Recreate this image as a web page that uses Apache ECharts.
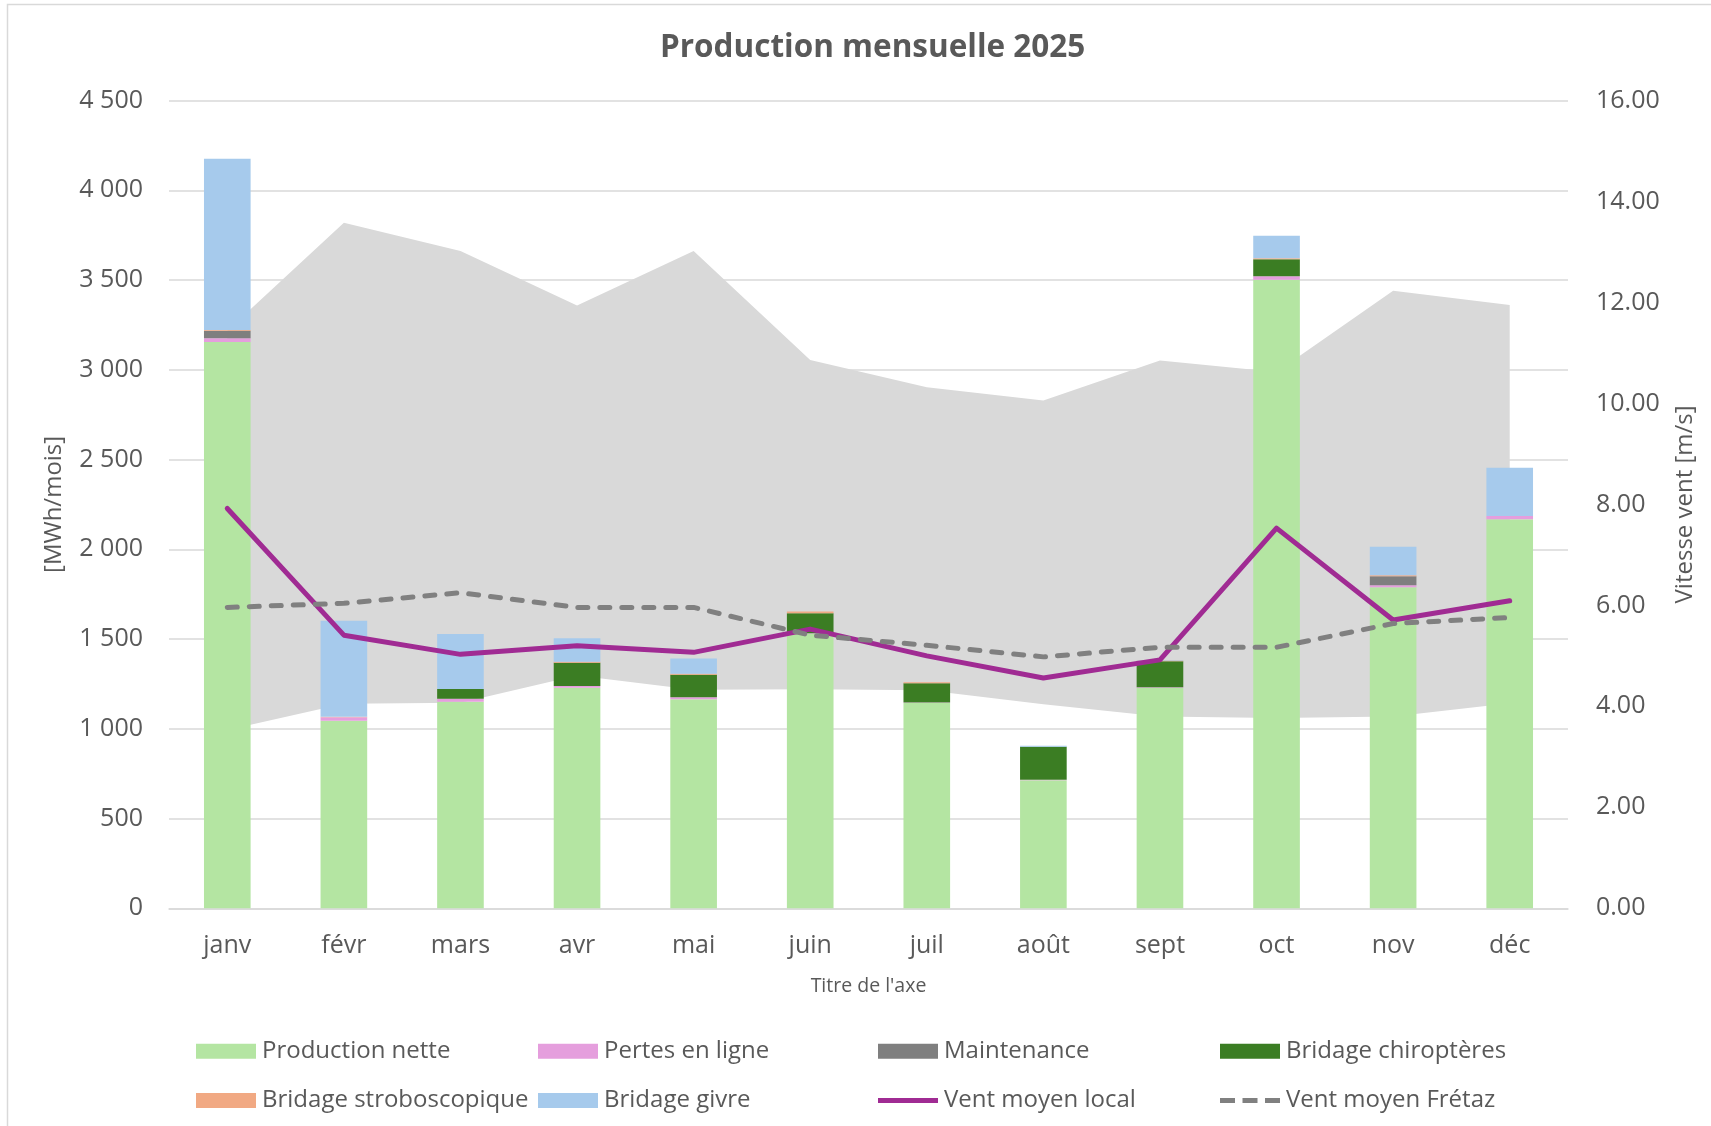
<!DOCTYPE html>
<html>
<head>
<meta charset="utf-8">
<script src="https://cdn.jsdelivr.net/npm/echarts@6/dist/echarts.min.js"></script>
<style>
html,body{margin:0;padding:0;background:#fff;}
#chart{width:1711px;height:1126px;}
</style>
</head>
<body>
<div id="chart"></div>
<script>
// ---- Data ----
const months = ['janv','févr','mars','avr','mai','juin','juil','août','sept','oct','nov','déc'];
const productionNette   = [3155,1045,1151,1229,1164,1530,1143,714,1228,3502,1789,2167];
const pertesEnLigne     = [21,19,17,9,11,2,3,2,3,19,11,18];
const maintenance       = [41,0,0,0,0,0,0,0,0,0,50,0];
const bridageChiro      = [0,0,54,130,126,111,108,184,145,95,0,0];
const bridageStrobo     = [5,3,0,6,6,11,5,0,4,5,5,0];
const bridageGivre      = [953,535,306,130,84,0,0,5,3,126,159,269];
const ventLocal         = [7.92,5.41,5.03,5.20,5.07,5.53,5.00,4.56,4.92,7.53,5.71,6.09];
const ventFretaz        = [5.96,6.04,6.25,5.96,5.96,5.41,5.21,4.98,5.17,5.17,5.64,5.76];
const ventBandLow       = [3.53,4.05,4.07,4.61,4.33,4.34,4.32,4.04,3.80,3.77,3.80,4.06];
const ventBandHigh      = [11.44,13.58,13.02,11.94,13.02,10.86,10.32,10.06,10.85,10.62,12.23,11.95];

const FONT = '"Open Sans", "Noto Sans", sans-serif';
const TXT = '#595959';

const bandDiff = ventBandHigh.map((v,i)=> +(v - ventBandLow[i]).toFixed(2));

function barSeries(name, data, color){
  return {name, type:'bar', stack:'prod', data, barWidth:'40%', z:2,
    itemStyle:{color}, emphasis:{disabled:true}};
}

const ROW1 = 1039.3, ROW2 = 1088.5; // legend row tops
const ICON_SOLID = 'path://M0,0 L60,0 L60,5 L0,5 Z';
const ICON_DASH  = 'path://M0,0 L15,0 L15,5 L0,5 Z M22.5,0 L37.5,0 L37.5,5 L22.5,5 Z M45,0 L60,0 L60,5 L45,5 Z';
const legendDefs = [
  ['Production nette',196,ROW1,'rect',15],
  ['Pertes en ligne',538,ROW1,'rect',15],
  ['Maintenance',878,ROW1,'rect',15],
  ['Bridage chiroptères',1220,ROW1,'rect',15],
  ['Bridage stroboscopique',196,ROW2,'rect',15],
  ['Bridage givre',538,ROW2,'rect',15],
  ['Vent moyen local',878,ROW2,ICON_SOLID,5],
  ['Vent moyen Frétaz',1220,ROW2,ICON_DASH,5]
];
const legends = legendDefs.map(([name,x,top,icon,h])=>({
  left:x, top:top, padding:0, itemWidth:60, itemHeight:h, selectedMode:false,
  data:[{name, icon}],
  textStyle:{color:TXT, fontSize:24, fontFamily:FONT, padding:[0,0,0,1]}
}));

const chart = echarts.init(document.getElementById('chart'), null, {renderer:'canvas'});
chart.setOption({
  animation:false,
  backgroundColor:'#fff',
  title:{text:'Production mensuelle 2025', left:655, top:27,
    textStyle:{fontFamily:FONT, fontSize:31.5, fontWeight:'bold', color:TXT}},
  graphic:[{type:'rect', shape:{x:7.5,y:4.5,width:1800,height:1200}, silent:true,
    style:{fill:'none', stroke:'#d9d9d9', lineWidth:1.5}}],
  legend:legends,
  grid:{left:169, right:143, top:100.5, bottom:217.7, containLabel:false},
  xAxis:{type:'category', data:months, boundaryGap:true,
    name:"Titre de l'axe", nameLocation:'middle', nameGap:68,
    nameTextStyle:{color:TXT, fontSize:19.5, fontFamily:FONT},
    axisLine:{lineStyle:{color:'#d9d9d9', width:1.5}},
    axisTick:{show:false},
    axisLabel:{color:TXT, fontSize:25, fontFamily:FONT, margin:25}},
  yAxis:[
    {type:'value', min:0, max:4500, interval:500,
     name:'[MWh/mois]', nameLocation:'middle', nameGap:103, nameRotate:90,
     nameTextStyle:{color:TXT, fontSize:24, fontFamily:FONT},
     axisLine:{show:false}, axisTick:{show:false},
     splitLine:{lineStyle:{color:'#d9d9d9', width:1.5}},
     axisLabel:{color:TXT, fontSize:25, fontFamily:FONT, margin:26,
       formatter:v=> v>=1000 ? Math.floor(v/1000)+' '+String(v%1000).padStart(3,'0') : String(v)}},
    {type:'value', min:0, max:16, interval:2,
     name:'Vitesse vent [m/s]', nameLocation:'middle', nameGap:105, nameRotate:90,
     nameTextStyle:{color:TXT, fontSize:24, fontFamily:FONT},
     axisLine:{show:false}, axisTick:{show:false}, splitLine:{show:false},
     axisLabel:{color:TXT, fontSize:25, fontFamily:FONT, margin:28,
       formatter:v=> v.toFixed(2)}}
  ],
  series:[
    {name:'bandLow', type:'line', yAxisIndex:1, stack:'band', data:ventBandLow,
     symbol:'none', lineStyle:{width:0, opacity:0}, z:1, silent:true},
    {name:'bandHigh', type:'line', yAxisIndex:1, stack:'band', data:bandDiff,
     symbol:'none', lineStyle:{width:0, opacity:0}, areaStyle:{color:'#d9d9d9', opacity:1}, z:1, silent:true},
    barSeries('Production nette', productionNette, '#b4e5a2'),
    barSeries('Pertes en ligne', pertesEnLigne, '#e59edd'),
    barSeries('Maintenance', maintenance, '#7f7f7f'),
    barSeries('Bridage chiroptères', bridageChiro, '#3b7d23'),
    barSeries('Bridage stroboscopique', bridageStrobo, '#f1a983'),
    barSeries('Bridage givre', bridageGivre, '#a6caec'),
    {name:'Vent moyen local', type:'line', yAxisIndex:1, data:ventLocal,
     symbol:'none', showSymbol:false, z:3,
     itemStyle:{color:'#a02b93'},
     lineStyle:{color:'#a02b93', width:5, cap:'round', join:'round'}},
    {name:'Vent moyen Frétaz', type:'line', yAxisIndex:1, data:ventFretaz,
     symbol:'none', showSymbol:false, z:3,
     itemStyle:{color:'#808080'},
     lineStyle:{color:'#808080', width:5, type:[10,12], cap:'round', join:'round'}}
  ]
});
</script>
</body>
</html>
